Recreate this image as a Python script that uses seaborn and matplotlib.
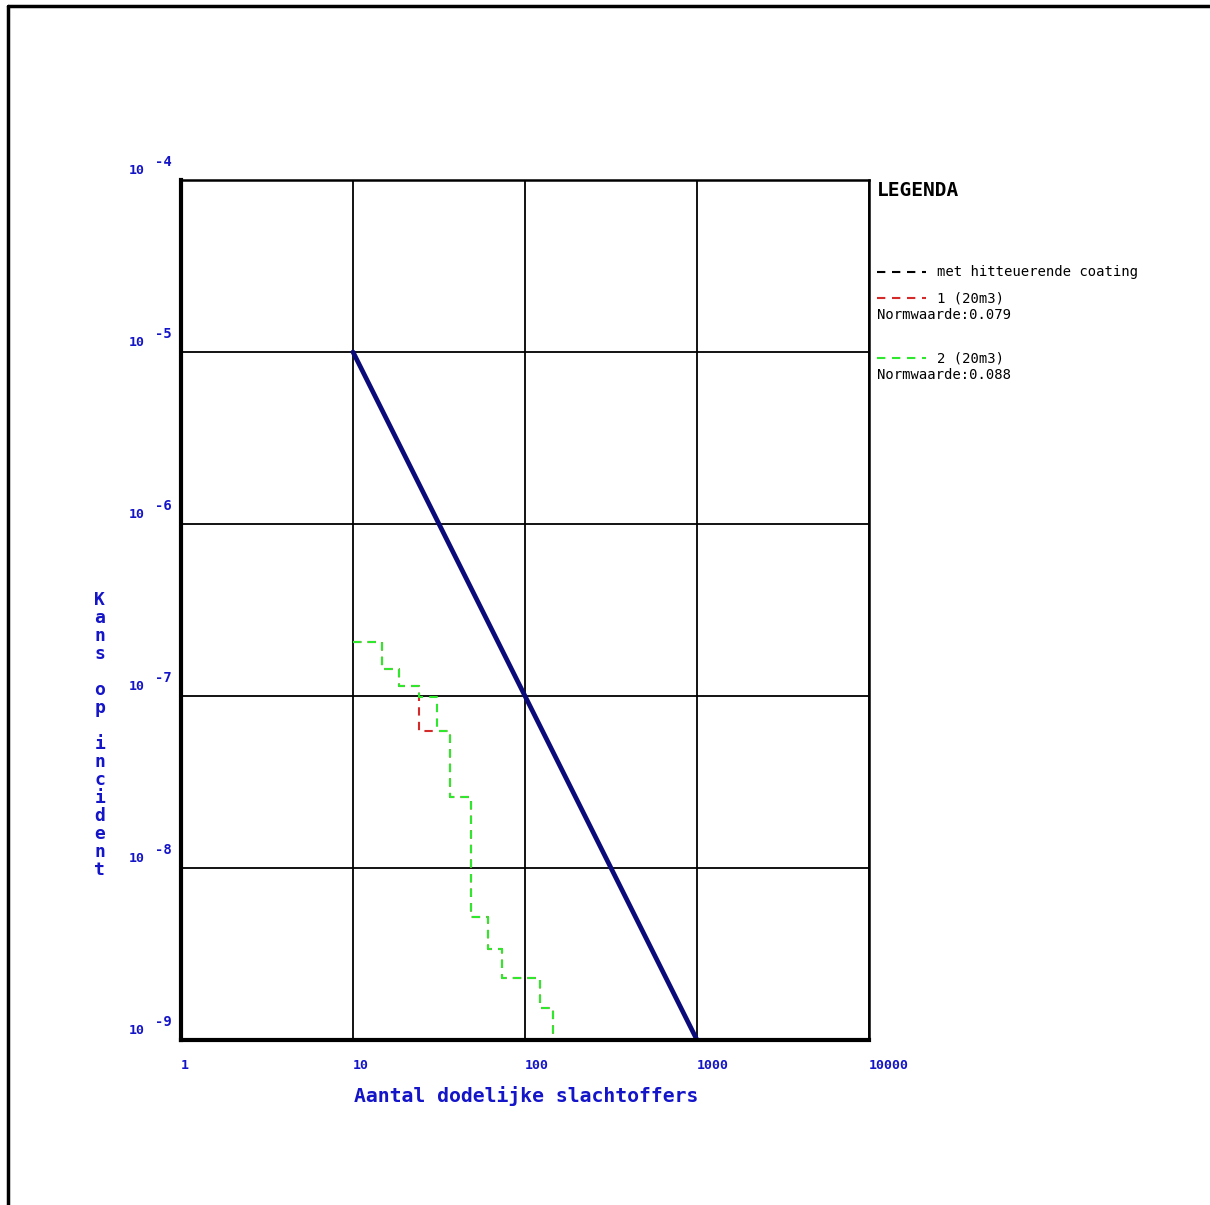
import matplotlib
matplotlib.use("Agg")
import matplotlib.pyplot as plt
import matplotlib.transforms as mtransforms
from matplotlib.lines import Line2D
import seaborn as sns
import pandas as pd

# ---- DATA ----
norm_x = [10, 1000]
norm_y = [1e-5, 1e-9]

step_x = [10, 14.7, 18.6, 24.3, 30.7, 36.6, 48.3, 61.2, 73.2, 122, 146]
scen1_y = [2.07e-7, 1.43e-7, 1.14e-7, 6.3e-8, 6.3e-8, 2.58e-8, 5.2e-9, 3.4e-9, 2.29e-9, 1.54e-9, 1e-9]
scen2_y = [2.07e-7, 1.43e-7, 1.14e-7, 9.9e-8, 6.3e-8, 2.58e-8, 5.2e-9, 3.4e-9, 2.29e-9, 1.54e-9, 1e-9]

x_ticks = [1, 10, 100, 1000, 10000]
x_tick_labels = ["1", "10", "100", "1000", "10000"]
y_exponents = [-4, -5, -6, -7, -8, -9]

legend_title = "LEGENDA"
legend_items = [
    ("met hitteuerende coating", "black", None),
    ("1 (20m3)", "#d42a2a", "Normwaarde:0.079"),
    ("2 (20m3)", "#2ee82e", "Normwaarde:0.088"),
]

BLUE = "#1414c8"
MONO = "DejaVu Sans Mono"

sns.set_style("white")
plt.rcParams["font.family"] = [MONO, "DejaVu Sans"]

W, H = 1210, 1205
fig = plt.figure(figsize=(W / 100, H / 100), dpi=100)
ax = fig.add_axes([181 / W, 1 - 1040 / H, 688 / W, 860 / H])

df1 = pd.DataFrame({"N": step_x, "F": scen1_y})
df2 = pd.DataFrame({"N": step_x, "F": scen2_y})
dfn = pd.DataFrame({"N": norm_x, "F": norm_y})

# ---- PLOT CURVES ----
sns.lineplot(data=df1, x="N", y="F", ax=ax, estimator=None, sort=False,
             drawstyle="steps-post", color="#d42a2a", lw=1.5, dashes=False,
             linestyle=(0, (4, 3)), zorder=3)
sns.lineplot(data=df2, x="N", y="F", ax=ax, estimator=None, sort=False,
             drawstyle="steps-post", color="#2ee82e", lw=1.5, dashes=False,
             linestyle=(0, (4, 3)), zorder=4)
sns.lineplot(data=dfn, x="N", y="F", ax=ax, estimator=None, color="#0a0a7a",
             lw=3.4, zorder=5)

ax.set_xscale("log")
ax.set_yscale("log")
ax.set_xlim(1, 10000)
ax.set_ylim(1e-9, 1e-4)

# grid + frame
ax.set_xticks(x_ticks, labels=x_tick_labels)
ax.set_yticks([10.0 ** e for e in y_exponents], labels=[""] * len(y_exponents))
ax.minorticks_off()
ax.grid(True, which="major", color="black", lw=1.3)
for side in ["left", "bottom"]:
    ax.spines[side].set_linewidth(3)
for side in ["top", "right"]:
    ax.spines[side].set_linewidth(1.8)
for s in ax.spines.values():
    s.set_color("black")
    s.set_zorder(6)
ax.tick_params(axis="both", length=0)
ax.tick_params(axis="x", pad=14, labelsize=9.5, labelcolor=BLUE)
for lab in ax.get_xticklabels():
    lab.set_ha("left")
    lab.set_fontweight("bold")

# y tick labels as "10" with raised exponent
ytrans = ax.get_yaxis_transform()
base = mtransforms.offset_copy(ytrans, fig=fig, x=0, y=7, units="points")
sup = mtransforms.offset_copy(ytrans, fig=fig, x=0, y=13, units="points")
for e in y_exponents:
    ax.text(-0.0756, 10.0 ** e, "10", transform=base, ha="left", va="center",
            fontsize=9.5, color=BLUE, fontweight="bold")
    ax.text(-0.0385, 10.0 ** e, str(e), transform=sup, ha="left", va="center",
            fontsize=10, color=BLUE, fontweight="bold")

# ---- AXIS LABELS ----
ax.set_xlabel("Aantal dodelijke slachtoffers", fontsize=14.2, color=BLUE,
              fontweight="bold")
ax.xaxis.set_label_coords(0.501, -0.054)
ax.set_ylabel("\n".join(list("Kans op incident")), rotation=0, fontsize=13,
              color=BLUE, fontweight="bold", linespacing=1.0, ha="center",
              va="center")
ax.yaxis.set_label_coords(-0.118, 0.355)

# ---- LEGEND ----
lx = 877 / W
fig.text(lx, 1 - 191 / H, legend_title, fontsize=14, fontweight="bold",
         ha="left", va="center", color="black")
rows_y = [272, 298, 358]
for (label, col, norm), ry in zip(legend_items, rows_y):
    yy = 1 - ry / H
    fig.add_artist(Line2D([lx, 926 / W], [yy, yy], color=col, lw=1.5,
                          linestyle=(0, (4, 3.2))))
    fig.text(937 / W, yy, label, fontsize=10, ha="left", va="center",
             color="black")
    if norm:
        fig.text(lx, yy - 17 / H, norm, fontsize=10, ha="left", va="center",
                 color="black")

# outer frame (top and left edges)
fig.add_artist(Line2D([8 / W, 1], [1 - 6 / H, 1 - 6 / H], color="black", lw=2.5))
fig.add_artist(Line2D([8 / W, 8 / W], [0, 1 - 6 / H], color="black", lw=2.5))

plt.savefig("out.png", dpi=100)
